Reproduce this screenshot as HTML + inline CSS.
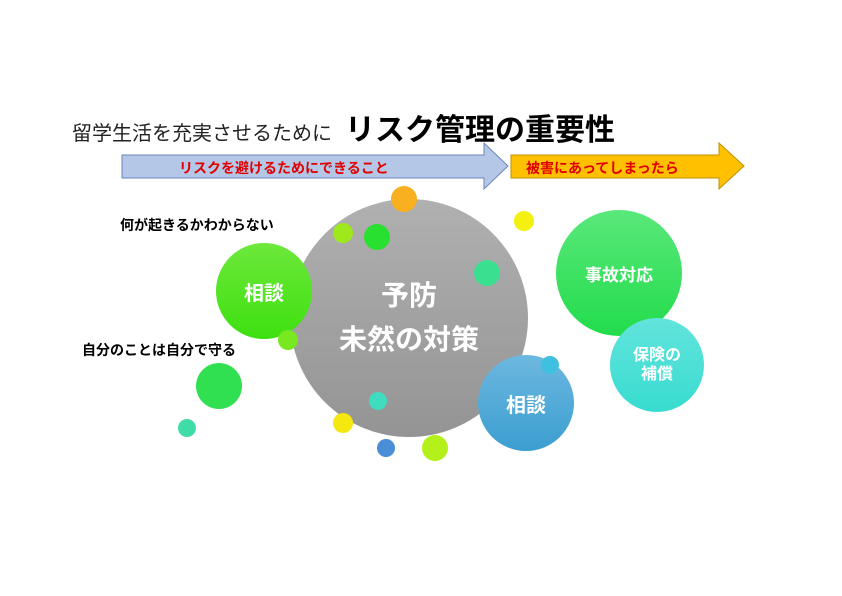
<html><head><style>
body{margin:0;width:842px;height:596px;background:#fff;position:relative;overflow:hidden;font-family:"Liberation Sans","Noto Sans CJK JP",sans-serif}
.t{position:absolute;white-space:nowrap}
.c{position:absolute;border-radius:50%;display:flex;align-items:center;justify-content:center;color:#fff;font-weight:bold;text-align:center}
</style></head><body>
<div class="t" style="left:72px;top:117px;font-size:20px;color:#222">留学生活を充実させるために</div>
<div class="t" style="left:345px;top:105px;font-size:30px;font-weight:bold;color:#000">リスク管理の重要性</div>
<svg style="position:absolute;left:0;top:0" width="842" height="596">
<polygon points="122,155 484,155 484,143 508,166 484,189 484,178 122,178" fill="#b4c7e7" stroke="#6a86b8" stroke-width="1"/>
<polygon points="511,155 719,155 719,143 744,166 719,189 719,178 511,178" fill="#ffc000" stroke="#c09000" stroke-width="1"/>
</svg>
<div class="t" style="left:179px;top:158px;font-size:14px;font-weight:bold;color:#e00000">リスクを避けるためにできること</div>
<div class="t" style="left:526px;top:158px;font-size:14px;font-weight:bold;color:#e00000">被害にあってしまったら</div>
<div class="t" style="left:120px;top:215px;font-size:14px;font-weight:bold">何が起きるかわからない</div>
<div class="t" style="left:82px;top:340px;font-size:14px;font-weight:bold">自分のことは自分で守る</div>
<div class="c" style="left:290px;top:199px;width:238px;height:238px;background:linear-gradient(#b0b0b0,#949494);font-size:28px;line-height:44px">予防<br>未然の対策</div>
<div class="c" style="left:216px;top:243px;width:96px;height:96px;background:linear-gradient(#6de83a,#3ee010);font-size:20px">相談</div>
<div class="c" style="left:478px;top:355px;width:96px;height:96px;background:linear-gradient(#6cb8e0,#3c9ed0);font-size:20px">相談</div>
<div class="c" style="left:556px;top:210px;width:126px;height:126px;background:linear-gradient(#5ae87a,#22dc4c);font-size:17px">事故対応</div>
<div class="c" style="left:610px;top:318px;width:94px;height:94px;background:linear-gradient(#62e4dc,#38dcd0);font-size:16px;line-height:19px">保険の<br>補償</div>
<div class="c" style="left:391px;top:186px;width:26px;height:26px;background:#f8b020"></div>
<div class="c" style="left:333px;top:223px;width:20px;height:20px;background:#9ee81c"></div>
<div class="c" style="left:364px;top:224px;width:26px;height:26px;background:#28e030"></div>
<div class="c" style="left:514px;top:211px;width:20px;height:20px;background:#f4f010"></div>
<div class="c" style="left:474px;top:260px;width:26px;height:26px;background:#38e090"></div>
<div class="c" style="left:278px;top:330px;width:20px;height:20px;background:#78e820"></div>
<div class="c" style="left:196px;top:363px;width:46px;height:46px;background:#30e050"></div>
<div class="c" style="left:178px;top:419px;width:18px;height:18px;background:#40dca8"></div>
<div class="c" style="left:369px;top:392px;width:18px;height:18px;background:#40dcc0"></div>
<div class="c" style="left:333px;top:413px;width:20px;height:20px;background:#f4e810"></div>
<div class="c" style="left:377px;top:439px;width:18px;height:18px;background:#4a8ed8"></div>
<div class="c" style="left:422px;top:435px;width:26px;height:26px;background:#b4f01a"></div>
<div class="c" style="left:541px;top:356px;width:18px;height:18px;background:#40c0e0"></div>
</body></html>
